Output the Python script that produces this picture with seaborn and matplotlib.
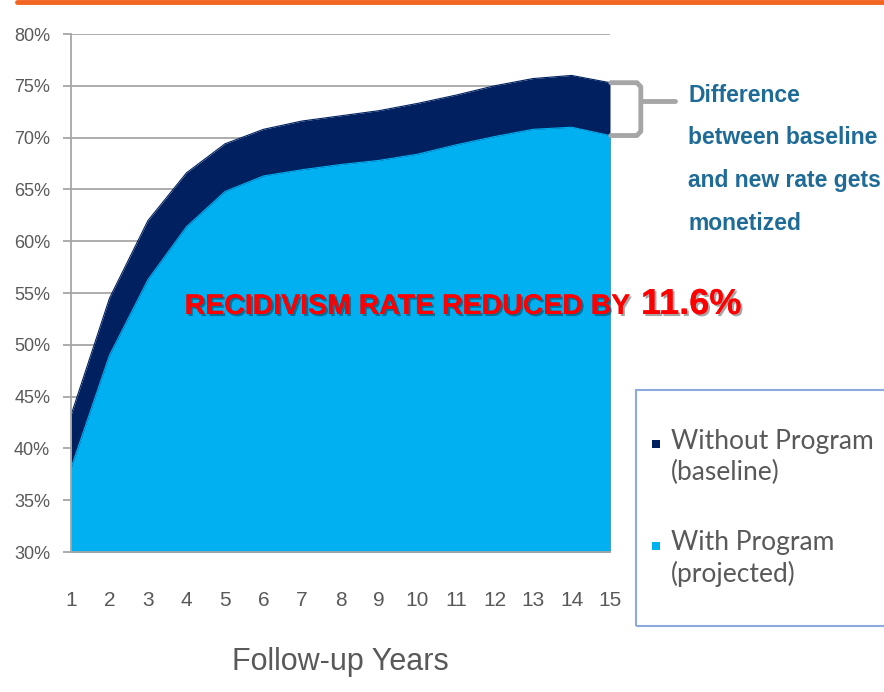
import matplotlib
matplotlib.use("Agg")
import matplotlib.pyplot as plt
import matplotlib.patheffects as pe
from matplotlib.patches import Rectangle
from matplotlib.lines import Line2D
import pandas as pd
import seaborn as sns

W, H = 884, 692

# -------------------------
# Data
# -------------------------
years = list(range(1, 16))
without_program = [43.2, 54.5, 62.0, 66.6, 69.4, 70.8, 71.6, 72.1, 72.6, 73.3,
                   74.1, 75.0, 75.7, 76.0, 75.3]
with_program = [38.1, 49.0, 56.3, 61.4, 64.8, 66.3, 66.9, 67.4, 67.8, 68.4,
                69.3, 70.1, 70.8, 71.0, 70.2]
y_ticks = [30, 35, 40, 45, 50, 55, 60, 65, 70, 75, 80]
series_labels = ["Without Program\n(baseline)", "With Program\n(projected)"]
colors = ["#002060", "#00b0f0"]
headline = "RECIDIVISM RATE REDUCED BY "
headline_value = "11.6%"
note = "Difference\nbetween baseline\nand new rate gets\nmonetized"

df = pd.DataFrame({"year": years,
                   series_labels[0]: without_program,
                   series_labels[1]: with_program})


def px(x, y):
    # pixel position -> figure fraction
    return x / W, 1 - y / H


sns.set_theme(style="white")
plt.rcParams["font.family"] = ["Liberation Sans", "DejaVu Sans"]

fig = plt.figure(figsize=(W / 100, H / 100), dpi=100)
l, b = px(71, 552)
r, t = px(610, 34)
ax = fig.add_axes([l, b, r - l, t - b])

grey_txt = "#595959"
grid_col = "#a6a6a6"

# -------------------------
# Areas
# -------------------------
for col, c in zip(series_labels, colors):
    ax.fill_between(df["year"], 30, df[col], color=c, lw=0, zorder=2)
    sns.lineplot(data=df, x="year", y=col, color=c, lw=0.8, ax=ax, zorder=3)

ax.set_xlim(1, 15)
ax.set_ylim(30, 80)
ax.set_yticks(y_ticks)
ax.set_yticklabels([f"{v}%" for v in y_ticks])
ax.set_xticks(years)
ax.set_xticklabels([str(y) for y in years])
ax.yaxis.grid(True, color=grid_col, lw=1.3, zorder=0)
ax.set_axisbelow(True)

for s in ["top", "right"]:
    ax.spines[s].set_visible(False)
for s in ["left", "bottom"]:
    ax.spines[s].set_color(grid_col)
    ax.spines[s].set_linewidth(1.3)
    ax.spines[s].set_zorder(4)

ax.tick_params(axis="y", length=6, width=1.3, color=grid_col, pad=9,
               labelsize=13, labelcolor=grey_txt, left=True)
ax.tick_params(axis="x", length=0, pad=28, labelsize=15, labelcolor=grey_txt)
ax.set_ylabel("")
ax.set_xlabel("Follow-up Years", fontsize=22, color=grey_txt, labelpad=27)

# -------------------------
# Headline
# -------------------------
shadow = [pe.withSimplePatchShadow(offset=(1.5, -1.5), shadow_rgbFace="black",
                                   alpha=0.35), pe.Normal()]
hx, hy = px(637, 314)
fig.text(hx, hy, headline, ha="right", va="baseline", color="#ff0000",
         fontsize=20.5, fontweight="bold", path_effects=shadow)
hx2, _ = px(641, 314)
fig.text(hx2, hy, headline_value, ha="left", va="baseline", color="#ff0000",
         fontsize=26, fontweight="bold", path_effects=shadow)

# -------------------------
# Bracket + note
# -------------------------
top, bot = without_program[-1], with_program[-1]
mid = (top + bot) / 2 + 0.8
bx = 15.8
ax.plot([15.02, bx - 0.1, bx, bx, bx - 0.1, 15.02],
        [top, top, top - 0.4, bot + 0.4, bot, bot],
        color=grid_col, lw=3.5, clip_on=False, solid_capstyle="round",
        solid_joinstyle="round", zorder=5)
ax.plot([bx, bx + 0.9], [mid, mid], color=grid_col, lw=3.5, clip_on=False,
        solid_capstyle="round", zorder=5)
nx, ny = px(688, 230)
fig.text(nx, ny, note, ha="left", va="baseline", color="#1f6b98", fontsize=16.5,
         fontweight="bold", linespacing=2.1)

# -------------------------
# Legend box
# -------------------------
lx, ly = px(636, 626)
fig.add_artist(Rectangle((lx, ly), 0.4, (626 - 390) / H, transform=fig.transFigure,
                         fill=False, edgecolor="#8eaadb", lw=1.5))
for lab, c, ytop, ylast in zip(series_labels, colors, [440, 542], [480, 582]):
    sx, sy = px(652, ytop + 8)
    fig.add_artist(Rectangle((sx, sy), 8 / W, 8 / H, transform=fig.transFigure,
                             facecolor=c, edgecolor="none"))
    tx, ty = px(671, ylast)
    fig.text(tx, ty, lab, ha="left", va="baseline", color=grey_txt,
             fontsize=19, family=["Lato", "DejaVu Sans"], linespacing=1.3)

# orange strip at the top
fig.add_artist(Line2D([17 / W, 1], [1 - 2 / H, 1 - 2 / H], transform=fig.transFigure,
                      color="#f26522", lw=3.5, solid_capstyle="round"))

fig.savefig("out.png", dpi=100)
